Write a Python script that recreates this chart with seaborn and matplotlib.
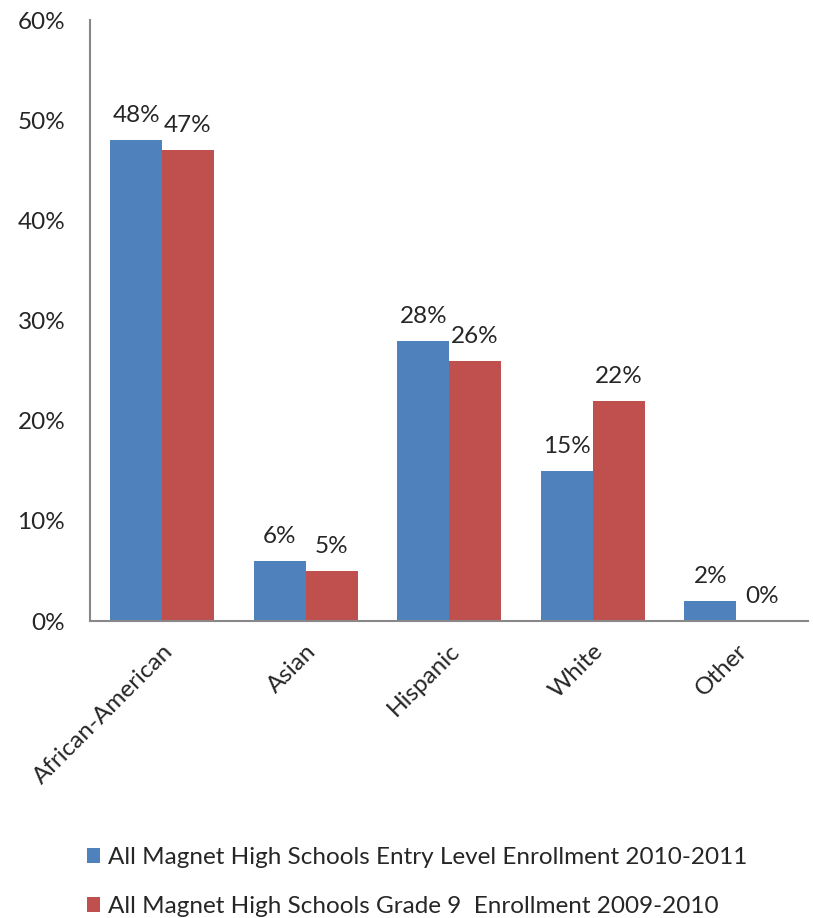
import matplotlib
matplotlib.use("Agg")
import matplotlib.pyplot as plt
import seaborn as sns
import pandas as pd
from matplotlib.patches import Patch

categories = ["African-American", "Asian", "Hispanic", "White", "Other"]
entry_2010 = [48, 6, 28, 15, 2]
grade9_2009 = [47, 5, 26, 22, 0]
series_names = ["All Magnet High Schools Entry Level Enrollment 2010-2011",
                "All Magnet High Schools Grade 9  Enrollment 2009-2010"]
colors = ["#4F81BD", "#C0504D"]
y_ticks = [0, 10, 20, 30, 40, 50, 60]

df = pd.DataFrame({
    "cat": categories * 2,
    "val": entry_2010 + grade9_2009,
    "series": [series_names[0]] * 5 + [series_names[1]] * 5,
})

sns.set_theme(style="white")
plt.rcParams['font.family'] = ['Lato', 'DejaVu Sans']
FS = 17.5

fig = plt.figure(figsize=(8.13, 9.18), dpi=100)
ax = fig.add_axes([0.111, 0.3235, 0.883, 0.6545])
sns.barplot(data=df, x="cat", y="val", hue="series", palette=colors,
            width=0.724, gap=0, ax=ax, legend=False, saturation=1,
            linewidth=0)

ax.set_ylim(0, 60)
ax.set_yticks(y_ticks)
ax.set_yticklabels([f"{t}%" for t in y_ticks], fontsize=FS)
ax.set_xlim(-0.5, 4.5)
ax.set_xlabel("")
ax.set_ylabel("")
ax.tick_params(axis="y", length=0, pad=18)
ax.tick_params(axis="x", length=0, pad=14)
for lab in ax.get_xticklabels():
    lab.set_rotation(45)
    lab.set_ha("right")
    lab.set_rotation_mode("anchor")
    lab.set_fontsize(FS)

for s in ["top", "right"]:
    ax.spines[s].set_visible(False)
for s in ["left", "bottom"]:
    ax.spines[s].set_color("#888888")
    ax.spines[s].set_linewidth(1.5)

for cont in ax.containers:
    ax.bar_label(cont, labels=[f"{v:.0f}%" for v in cont.datavalues],
                 padding=10, fontsize=FS)

handles = [Patch(facecolor=c, edgecolor="none") for c in colors]
fig.legend(handles, series_names, loc="upper left", bbox_to_anchor=(0.107, 0.0775),
           frameon=False, fontsize=FS, handlelength=0.55, handleheight=0.55,
           handletextpad=0.3, labelspacing=1.15, borderaxespad=0, borderpad=0)

fig.savefig("out.png", dpi=100)
